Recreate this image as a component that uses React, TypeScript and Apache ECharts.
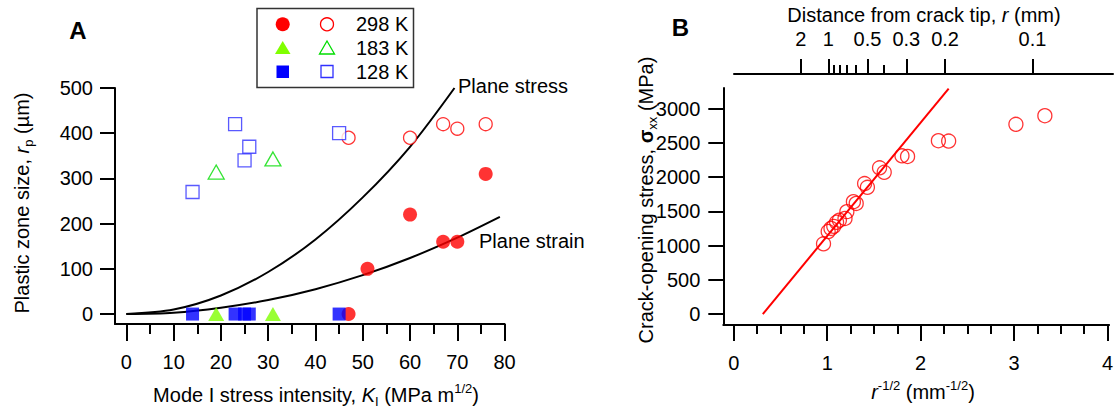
import React, { useEffect, useRef } from "react";
import * as echarts from "echarts";

// ---------- Panel A data ----------
const red298FilledK = [47, 51, 60, 67, 70, 76];
const red298FilledRp = [0, 100, 220, 160, 160, 310];
const red298OpenK = [47, 60, 67, 70, 76];
const red298OpenRp = [390, 390, 420, 410, 420];
const green183FilledK = [19, 31];
const green183FilledRp = [0, 0];
const green183OpenK = [19, 31];
const green183OpenRp = [314, 343];
const blue128FilledK = [14, 23, 25, 26, 45];
const blue128FilledRp = [0, 0, 0, 0, 0];
const blue128OpenK = [14, 23, 25, 26, 45];
const blue128OpenRp = [270, 420, 340, 370, 400];
const planeStressK = [0, 10, 20, 30, 40, 50, 60, 69.4];
const planeStressRp = [0, 10, 41, 93, 165, 258, 370, 500];
const planeStrainK = [0, 10, 20, 30, 40, 50, 60, 70, 79];
const planeStrainRp = [0, 3, 14, 31, 55, 86, 124, 169, 215];
const xMajorA = [0, 10, 20, 30, 40, 50, 60, 70, 80];
const xMinorA = [0, 5, 10, 15, 20, 25, 30, 35, 40, 45, 50, 55, 60, 65, 70, 75, 80];
const yTicksA = [0, 100, 200, 300, 400, 500];

// ---------- Panel B data ----------
const invSqrtR = [0.96, 1.01, 1.04, 1.07, 1.1, 1.13, 1.19, 1.21, 1.28, 1.31, 1.4, 1.43, 1.56, 1.61, 1.8, 1.86, 2.19, 2.3, 3.02, 3.33];
const sigmaXX = [1025, 1205, 1250, 1280, 1340, 1370, 1395, 1495, 1640, 1615, 1905, 1850, 2135, 2070, 2310, 2300, 2530, 2525, 2770, 2895];
const fitX = [0.31, 2.3];
const fitY = [0, 3290];
const xMajorB = [0, 1, 2, 3, 4];
const xMinorB = [0, 0.25, 0.5, 0.75, 1, 1.25, 1.5, 1.75, 2, 2.25, 2.5, 2.75, 3, 3.25, 3.5, 3.75, 4];
const yTicksB = [0, 500, 1000, 1500, 2000, 2500, 3000];
const topMajorR = [2, 1, 0.5, 0.3, 0.2, 0.1];
const topMajorLabels = ["2", "1", "0.5", "0.3", "0.2", "0.1"];
const topMinorR = [0.9, 0.8, 0.7, 0.6, 0.4];

const FONT = "'Liberation Sans', Arial, Helvetica, sans-serif";

const zip = (a: number[], b: number[]) => a.map((v, i) => [v, b[i]]);

export default function App() {
  const ref = useRef<HTMLDivElement>(null);
  useEffect(() => {
    if (!ref.current) return;
    const chart = echarts.init(ref.current, null, { renderer: "svg" });
    const topMajorPos = topMajorR.map((r) => 1 / Math.sqrt(r));
    const topMinorPos = topMinorR.map((r) => 1 / Math.sqrt(r));
    const axisLine = { show: true, onZero: false, lineStyle: { color: "#000", width: 2 } };
    const label = (extra: any) => ({
      color: "#000",
      fontSize: 20,
      fontFamily: FONT,
      formatter: (v: number) => String(v),
      ...extra,
    });
    const tick = (vals: number[], len: number) => ({
      show: true,
      customValues: vals,
      length: len,
      inside: false,
      lineStyle: { color: "#000", width: 2 },
    });
    const hidden = { show: false };

    const richMain = { fontSize: 20, fontFamily: FONT, fill: "#000", lineHeight: 26, verticalAlign: "middle" };
    const richIt = { ...richMain, fontStyle: "italic" };
    const richSup = { fontSize: 13, fontFamily: FONT, fill: "#000", lineHeight: 13, verticalAlign: "top" };
    const richSub = { fontSize: 13, fontFamily: FONT, fill: "#000", lineHeight: 13, verticalAlign: "bottom" };
    const richB = { ...richMain, fontWeight: "bold" };
    const rich = { m: richMain, i: richIt, sup: richSup, sub: richSub, b: richB };

    const title = (x: number, y: number, text: string, rot = 0) => ({
      type: "text",
      x,
      y,
      rotation: rot,
      style: { text, rich, fontSize: 20, fontFamily: FONT, fill: "#000", align: "center", verticalAlign: "middle" },
    });
    const plain = (x: number, y: number, text: string, opts: any = {}) => ({
      type: "text",
      x,
      y,
      style: { text, fontSize: 20, fontFamily: FONT, fill: "#000", align: "left", verticalAlign: "middle", ...opts },
    });

    const option: any = {
      animation: false,
      backgroundColor: "#fff",
      grid: [
        { left: 115, top: 88, width: 389.6, height: 236 },
        { left: 723.3, top: 88, width: 390, height: 237 },
        { left: 734, top: 74, width: 379, height: 20 },
      ],
      xAxis: [
        {
          gridIndex: 0, type: "value", min: -2.4, max: 80, position: "bottom",
          axisLine, axisTick: tick(xMajorA, 17), splitLine: hidden,
          axisLabel: label({ customValues: xMajorA, margin: 28 }),
        },
        {
          gridIndex: 0, type: "value", min: -2.4, max: 80, position: "bottom",
          axisLine: { show: false, onZero: false }, axisTick: tick(xMinorA, 10), splitLine: hidden,
          axisLabel: hidden,
        },
        {
          gridIndex: 1, type: "value", min: -0.113, max: 4.018, position: "bottom",
          axisLine, axisTick: tick(xMajorB, 16), splitLine: hidden,
          axisLabel: label({ customValues: xMajorB, margin: 28 }),
        },
        {
          gridIndex: 1, type: "value", min: -0.113, max: 4.018, position: "bottom",
          axisLine: { show: false, onZero: false }, axisTick: tick(xMinorB, 9), splitLine: hidden,
          axisLabel: hidden,
        },
        {
          gridIndex: 2, type: "value", min: 0, max: 4.015, position: "top",
          axisLine, axisTick: tick(topMajorPos, 15), splitLine: hidden,
          axisLabel: label({
            customValues: topMajorPos,
            margin: 25,
            formatter: (v: number) => {
              const i = topMajorPos.findIndex((p) => Math.abs(p - v) < 1e-6);
              return i >= 0 ? topMajorLabels[i] : "";
            },
          }),
        },
        {
          gridIndex: 2, type: "value", min: 0, max: 4.015, position: "top",
          axisLine: { show: false, onZero: false }, axisTick: tick(topMinorPos, 9), splitLine: hidden,
          axisLabel: hidden,
        },
      ],
      yAxis: [
        {
          gridIndex: 0, type: "value", min: -22, max: 500,
          axisLine, axisTick: tick(yTicksA, 15), splitLine: hidden,
          axisLabel: label({ customValues: yTicksA, margin: 22 }),
        },
        {
          gridIndex: 1, type: "value", min: -160, max: 3300,
          axisLine, axisTick: tick(yTicksB, 15), splitLine: hidden,
          axisLabel: label({ customValues: yTicksB, margin: 23 }),
        },
        { gridIndex: 2, type: "value", min: 0, max: 1, show: false },
      ],
      series: [
        {
          type: "line", xAxisIndex: 0, yAxisIndex: 0, data: zip(planeStressK, planeStressRp),
          smooth: 0.3, symbol: "none", lineStyle: { color: "#000", width: 2 }, z: 1,
        },
        {
          type: "line", xAxisIndex: 0, yAxisIndex: 0, data: zip(planeStrainK, planeStrainRp),
          smooth: 0.3, symbol: "none", lineStyle: { color: "#000", width: 2 }, z: 1,
        },
        {
          type: "scatter", xAxisIndex: 0, yAxisIndex: 0, data: zip(red298OpenK, red298OpenRp),
          symbol: "circle", symbolSize: 13,
          itemStyle: { color: "#fff", borderColor: "#ff0000", borderWidth: 1.3 }, z: 2,
        },
        {
          type: "scatter", xAxisIndex: 0, yAxisIndex: 0, data: zip(red298FilledK, red298FilledRp),
          symbol: "circle", symbolSize: 14, itemStyle: { color: "#ff0000" }, z: 2,
        },
        {
          type: "scatter", xAxisIndex: 0, yAxisIndex: 0, data: zip(green183OpenK, green183OpenRp),
          symbol: "triangle", symbolSize: [16, 14],
          itemStyle: { color: "#fff", borderColor: "#00dd00", borderWidth: 1.3 }, z: 3,
        },
        {
          type: "scatter", xAxisIndex: 0, yAxisIndex: 0, data: zip(green183FilledK, green183FilledRp),
          symbol: "triangle", symbolSize: [16, 14], itemStyle: { color: "#80ff00" }, z: 3,
        },
        {
          type: "scatter", xAxisIndex: 0, yAxisIndex: 0, data: zip(blue128OpenK, blue128OpenRp),
          symbol: "rect", symbolSize: 13,
          itemStyle: { color: "#fff", borderColor: "#3030ff", borderWidth: 1.3 }, z: 4,
        },
        {
          type: "scatter", xAxisIndex: 0, yAxisIndex: 0, data: zip(blue128FilledK, blue128FilledRp),
          symbol: "rect", symbolSize: 13, itemStyle: { color: "#0000ff" }, z: 4,
        },
        {
          type: "line", xAxisIndex: 2, yAxisIndex: 1, data: zip(fitX, fitY),
          symbol: "none", lineStyle: { color: "#ff0000", width: 2 }, z: 1,
        },
        {
          type: "scatter", xAxisIndex: 2, yAxisIndex: 1, data: zip(invSqrtR, sigmaXX),
          symbol: "circle", symbolSize: 14,
          itemStyle: { color: "rgba(0,0,0,0)", borderColor: "#ff0000", borderWidth: 1.3 }, z: 2,
        },
      ],
      graphic: [
        // panel letters
        { type: "text", x: 78, y: 30, style: { text: "A", fontSize: 24, fontWeight: "bold", fontFamily: FONT, fill: "#000", align: "center", verticalAlign: "middle" } },
        { type: "text", x: 680.5, y: 27, style: { text: "B", fontSize: 24, fontWeight: "bold", fontFamily: FONT, fill: "#000", align: "center", verticalAlign: "middle" } },
        // curve labels
        plain(458, 86, "Plane stress"),
        plain(479, 241, "Plane strain"),
        // axis titles
        title(316, 395, "{m|Mode I stress intensity, }{i|K}{sub|I}{m| (MPa m}{sup|1/2}{m|)}"),
        title(22, 203, "{m|Plastic zone size, }{i|r}{sub|p}{m| (µm)}", Math.PI / 2),
        title(923, 392, "{i|r}{sup|-1/2}{m| (mm}{sup|-1/2}{m|)}"),
        title(646, 200, "{m|Crack-opening stress, }{b|σ}{sub|xx}{m| (MPa)}", Math.PI / 2),
        title(924, 15, "{m|Distance from crack tip, }{i|r}{m| (mm)}"),
        // legend box
        {
          type: "rect",
          shape: { x: 257, y: 8.5, width: 156.5, height: 79 },
          style: { fill: "#fff", stroke: "#333", lineWidth: 1.5 },
          z: 10,
        },
        { type: "circle", shape: { cx: 282.7, cy: 24.3, r: 7 }, style: { fill: "#ff0000" }, z: 11 },
        { type: "circle", shape: { cx: 327, cy: 24.3, r: 6.5 }, style: { fill: "#fff", stroke: "#ff0000", lineWidth: 1.3 }, z: 11 },
        { type: "polygon", shape: { points: [[282.7, 41], [290.5, 54], [275, 54]] }, style: { fill: "#80ff00" }, z: 11 },
        { type: "polygon", shape: { points: [[327, 41], [334.5, 54], [319.5, 54]] }, style: { fill: "#fff", stroke: "#00dd00", lineWidth: 1.3 }, z: 11 },
        { type: "rect", shape: { x: 276.5, y: 65.5, width: 12.5, height: 12.5 }, style: { fill: "#0000ff" }, z: 11 },
        { type: "rect", shape: { x: 321, y: 65.5, width: 12, height: 12 }, style: { fill: "#fff", stroke: "#3030ff", lineWidth: 1.3 }, z: 11 },
        { ...plain(356, 24.3, "298 K"), z: 11 },
        { ...plain(356, 47.7, "183 K"), z: 11 },
        { ...plain(356, 71.7, "128 K"), z: 11 },
      ],
    };
    chart.setOption(option);
    return () => chart.dispose();
  }, []);
  return (
    <div
      ref={ref}
      style={{ position: "fixed", left: 0, top: 0, width: 1116, height: 411, background: "#fff" }}
    />
  );
}
